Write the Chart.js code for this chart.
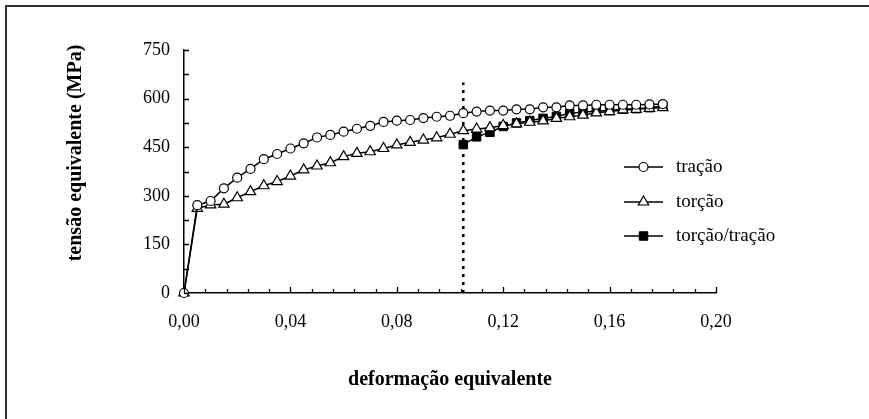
<!DOCTYPE html>
<html>
<head>
<meta charset="utf-8">
<script src="https://cdn.jsdelivr.net/npm/chart.js@4"></script>
<style>
  html, body { margin: 0; padding: 0; background: #fff; }
  #wrap { position: relative; width: 869px; height: 419px; }
</style>
</head>
<body>
<div id="wrap"><canvas id="chart"></canvas></div>
<script>
// strain grid (deformação equivalente)
const strain = [0, 0.005, 0.01, 0.015, 0.02, 0.025, 0.03, 0.035, 0.04, 0.045, 0.05, 0.055, 0.06,
  0.065, 0.07, 0.075, 0.08, 0.085, 0.09, 0.095, 0.1, 0.105, 0.11, 0.115, 0.12, 0.125, 0.13,
  0.135, 0.14, 0.145, 0.15, 0.155, 0.16, 0.165, 0.17, 0.175, 0.18];
// tensão equivalente (MPa)
const tracao = [0, 271, 284, 323, 356, 383, 413, 429, 446, 462, 480, 488, 498,
  507, 516, 528, 532, 534, 540, 544, 547, 555, 560, 563, 563, 567, 567,
  573, 573, 579, 579, 581, 581, 581, 581, 582, 583];
const torcao = [0, 261, 272, 274, 294, 313, 331, 344, 361, 380, 392, 402, 421,
  431, 436, 446, 457, 465, 472, 479, 490, 501, 506, 510, 517, 522, 527,
  531, 539, 544, 549, 556, 560, 565, 567, 570, 572];
const strainTT = [0.105, 0.11, 0.115, 0.12, 0.125, 0.13, 0.135, 0.14, 0.145, 0.15,
  0.155, 0.16, 0.165, 0.17, 0.175, 0.18];
const torcaoTracao = [458, 482, 496, 514, 525, 532, 539, 545, 555, 558,
  562, 563, 567, 569, 572, 578];
// path change marker
const changeStrain = 0.105;
const changeTop = 650;

const seriesNames = ['tração', 'torção', 'torção/tração'];
const yTicks = { min: 0, max: 750, step: 150, minor: 75 };
const xTicks = { min: 0, max: 0.20, step: 0.04, minor: 0.008 };

const FONT = "'Liberation Serif', 'Times New Roman', serif";

const pts = (xs, ys) => xs.map((x, i) => ({ x: x, y: ys[i] }));

const frameAndText = {
  id: 'frameAndText',
  beforeDraw(chart) {
    const ctx = chart.ctx;
    ctx.save();
    ctx.strokeStyle = '#333';
    ctx.lineWidth = 2;
    ctx.beginPath();
    ctx.moveTo(6, 419); ctx.lineTo(6, 6); ctx.lineTo(869, 6);
    ctx.stroke();
    ctx.restore();
  },
  afterDraw(chart) {
    const ctx = chart.ctx;
    const xs = chart.scales.x, ys = chart.scales.y;
    ctx.save();
    ctx.strokeStyle = '#000';
    ctx.lineWidth = 1.3;
    // inward tick marks
    ctx.beginPath();
    for (let v = yTicks.min; v <= yTicks.max + 1e-9; v += yTicks.minor) {
      const p = Math.round(ys.getPixelForValue(v)) + 0.5;
      ctx.moveTo(xs.left, p); ctx.lineTo(xs.left + 5, p);
    }
    for (let i = 0; i <= Math.round((xTicks.max - xTicks.min) / xTicks.minor); i++) {
      const v = xTicks.min + i * xTicks.minor;
      const p = Math.round(xs.getPixelForValue(v)) + 0.5;
      ctx.moveTo(p, ys.bottom); ctx.lineTo(p, ys.bottom - (i % 5 === 0 ? 6 : 4));
    }
    ctx.stroke();

    // axis titles
    ctx.fillStyle = '#000';
    ctx.font = 'bold 20px ' + FONT;
    ctx.textAlign = 'center';
    ctx.textBaseline = 'middle';
    ctx.fillText('deformação equivalente', (xs.left + xs.right) / 2, 380);
    ctx.translate(76, 153);
    ctx.rotate(-Math.PI / 2);
    ctx.fillText('tensão equivalente (MPa)', 0, 0);
    ctx.restore();

    // legend
    ctx.save();
    const rows = [167, 202, 236];
    chart.data.datasets.slice(0, 3).forEach((ds, i) => {
      const y = rows[i];
      ctx.strokeStyle = '#000';
      ctx.lineWidth = 1.5;
      ctx.beginPath();
      ctx.moveTo(624, y); ctx.lineTo(663, y);
      ctx.stroke();
      ctx.fillStyle = ds.pointBackgroundColor;
      ctx.lineWidth = ds.pointBorderWidth;
      Chart.helpers.drawPoint(ctx, { pointStyle: ds.pointStyle, radius: ds.pointRadius, rotation: 0, borderWidth: ds.pointBorderWidth }, 643.5, y);
      ctx.fillStyle = '#000';
      ctx.font = '19px ' + FONT;
      ctx.textAlign = 'left';
      ctx.textBaseline = 'middle';
      ctx.fillText(ds.label, 676, y);
    });
    ctx.restore();
  }
};

new Chart(document.getElementById('chart'), {
  type: 'line',
  data: {
    datasets: [
      {
        label: seriesNames[0],
        data: pts(strain, tracao),
        borderColor: '#000', borderWidth: 1.5, clip: false,
        pointStyle: 'circle', pointRadius: 4.5,
        pointBackgroundColor: '#fff', pointBorderColor: '#000', pointBorderWidth: 1.2
      },
      {
        label: seriesNames[1],
        data: pts(strain, torcao),
        borderColor: '#000', borderWidth: 1.5, clip: false,
        pointStyle: 'triangle', pointRadius: 6,
        pointBackgroundColor: '#fff', pointBorderColor: '#000', pointBorderWidth: 1.2
      },
      {
        label: seriesNames[2],
        data: pts(strainTT, torcaoTracao),
        borderColor: '#000', borderWidth: 1.5, clip: false,
        pointStyle: 'rect', pointRadius: 6,
        pointBackgroundColor: '#000', pointBorderColor: '#000', pointBorderWidth: 1
      },
      {
        label: 'mudança',
        data: pts([changeStrain, changeStrain], [0, changeTop]),
        borderColor: '#000', borderWidth: 2.5, borderDash: [3, 5],
        pointRadius: 0
      }
    ]
  },
  options: {
    responsive: true,
    maintainAspectRatio: false,
    animation: false,
    events: [],
    layout: { padding: { left: 0, right: 153, top: 50, bottom: 0 } },
    plugins: { legend: { display: false }, tooltip: { enabled: false } },
    scales: {
      x: {
        type: 'linear',
        min: xTicks.min, max: xTicks.max,
        grid: { display: false, drawTicks: false },
        border: { display: true, color: '#000', width: 1.5 },
        ticks: {
          stepSize: xTicks.step, color: '#000', padding: 18,
          font: { family: FONT, size: 18 },
          maxRotation: 0,
          callback: v => Number(v).toFixed(2).replace('.', ',')
        },
        afterFit: s => { s.height = 419 - 293; }
      },
      y: {
        min: yTicks.min, max: yTicks.max,
        grid: { display: false, drawTicks: false },
        border: { display: true, color: '#000', width: 1.5 },
        ticks: {
          stepSize: yTicks.step, color: '#000', padding: 14,
          font: { family: FONT, size: 18 }
        },
        afterFit: s => { s.width = 184; }
      }
    }
  },
  plugins: [frameAndText]
});
</script>
</body>
</html>
